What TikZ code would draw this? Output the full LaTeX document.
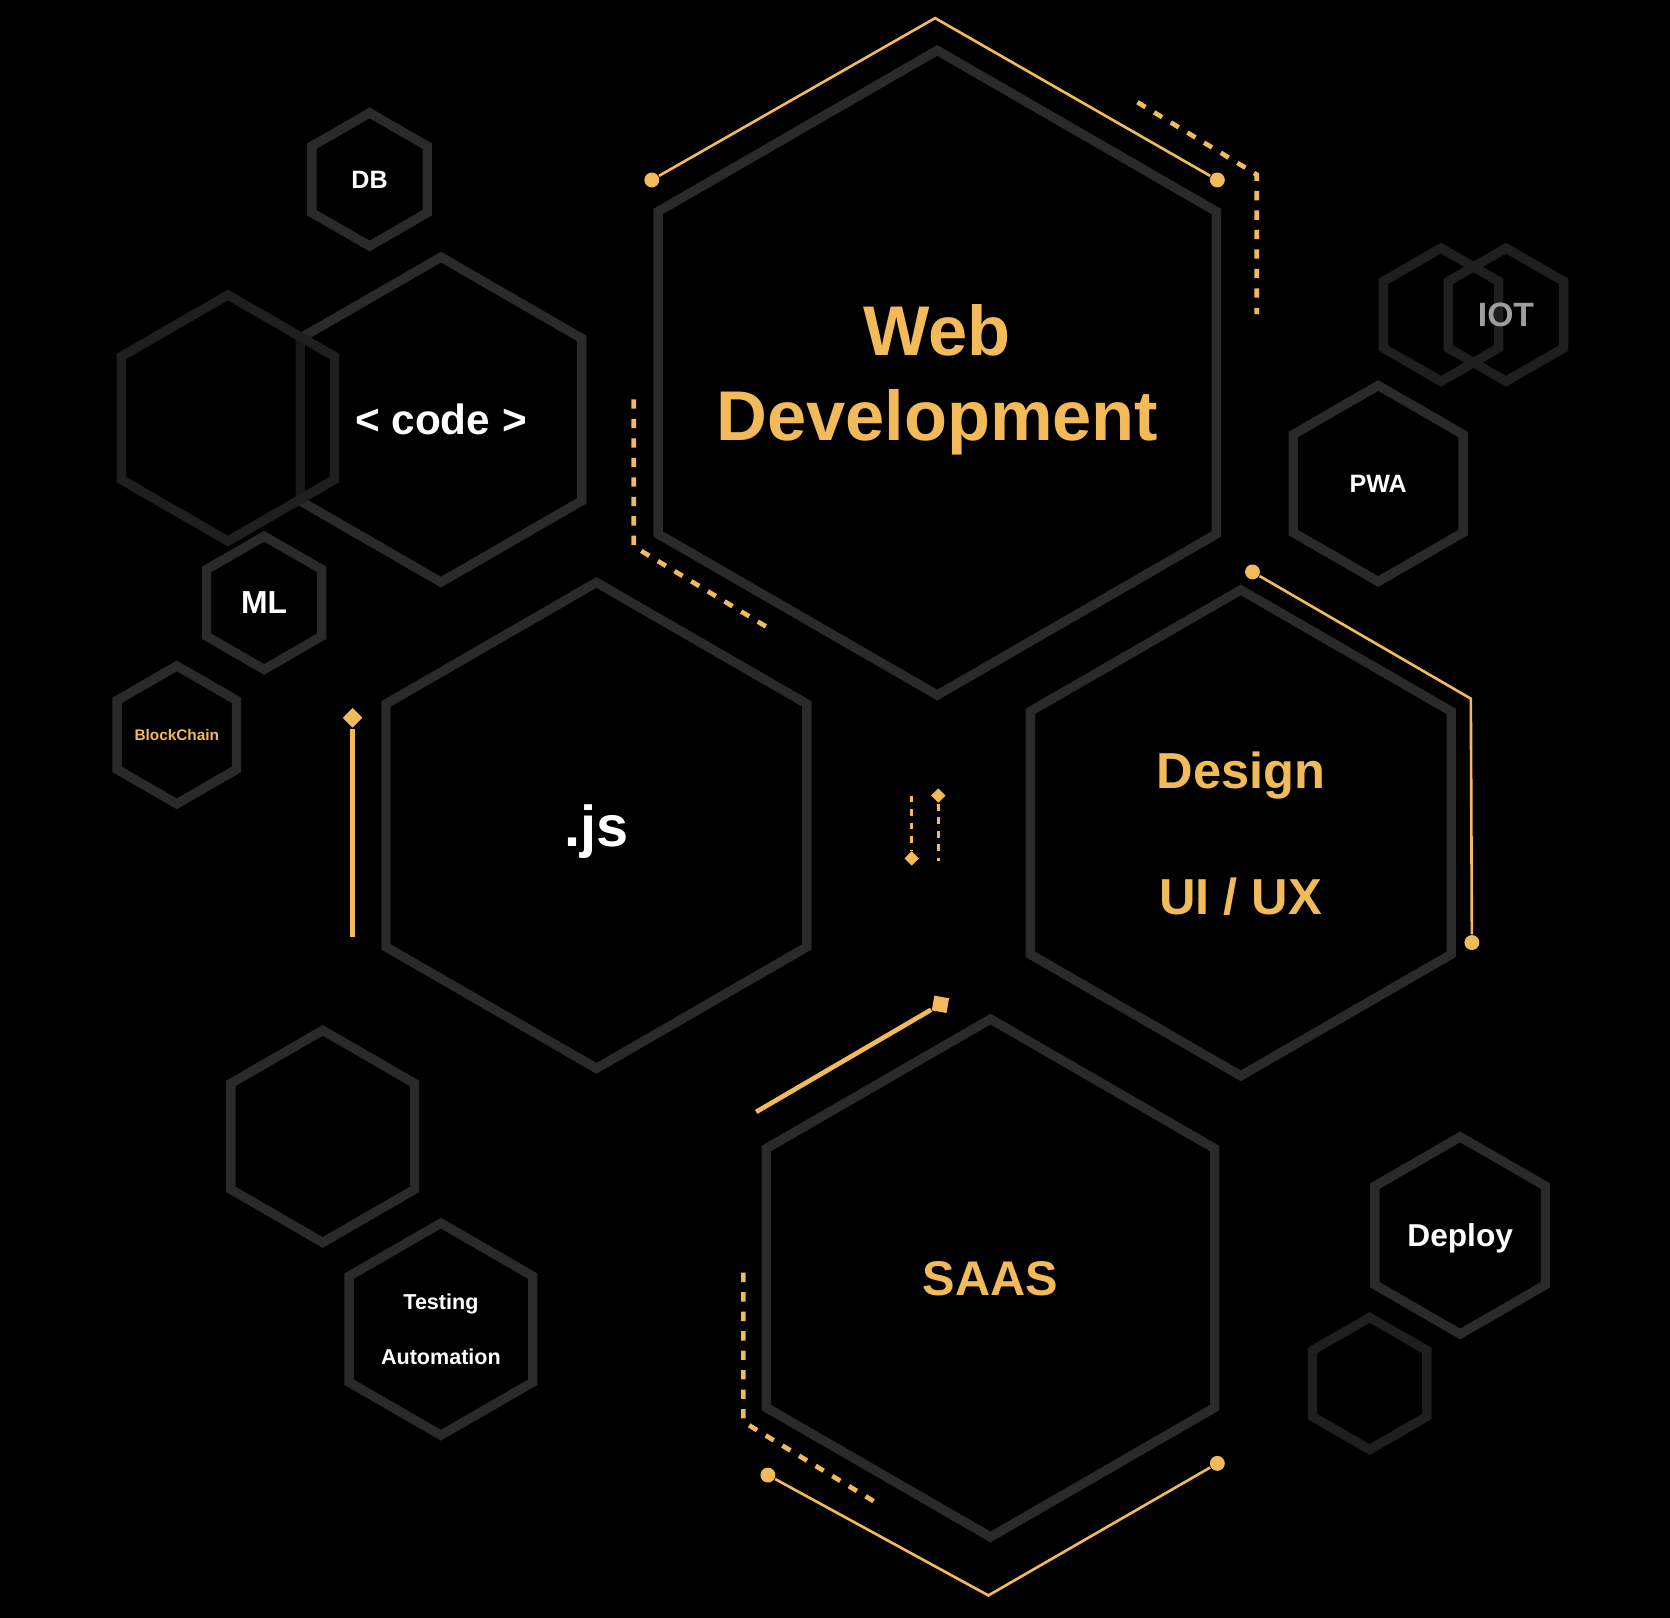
\documentclass[tikz,border=0pt]{standalone}
\usepackage{fontspec}
\setmainfont{Liberation Sans}
\usetikzlibrary{shapes.geometric}
\definecolor{amber}{RGB}{242,186,89}
\definecolor{hexgray}{RGB}{42,42,42}
\definecolor{hexdim}{RGB}{31,31,31}
\definecolor{iotgray}{RGB}{158,158,158}
\newcommand{\hexfont}[2]{\fontsize{#1pt}{#2pt}\selectfont\bfseries}

\begin{document}
\begin{tikzpicture}[x=0.01cm,y=-0.01cm,
   hexa/.style={regular polygon,regular polygon sides=6,shape border rotate=30,
      draw=hexgray,line width=2.5pt,inner sep=0pt,text depth=0pt,align=center,minimum size=#1},
   ghost/.style={hexa=#1,draw=hexdim},
   dot/.style={circle,fill=amber,inner sep=0pt,minimum size=0.14cm},
   gem/.style={diamond,fill=amber,inner sep=0pt,minimum size=#1},
   wire/.style={amber,line width=0.7pt},
   bar/.style={amber,line width=1.25pt},
   dashwire/.style={amber,line width=1.25pt,dash pattern=on 2.5pt off 2.7pt},
   dotwire/.style={amber,line width=0.9pt,dash pattern=on 1.8pt off 1.8pt}]
   \fill[black] (0,0) rectangle (1568,1519);

   \node[hexa=6.05cm,text=amber,font=\hexfont{18.8}{22.8}] (web) at (880,350)
      {\makebox[0pt]{Web}\\\makebox[0pt]{Development}};
   \node[hexa=4.56cm,text=amber,font=\hexfont{13.5}{33.6}] (design) at (1165,782) {Design\\UI / UX};
   \node[hexa=4.56cm,text=white,font=\hexfont{15.4}{18}] (js) at (560,775) {.js};
   \node[hexa=4.86cm,text=amber,font=\hexfont{13}{16}] (saas) at (930,1200) {SAAS};
   \node[hexa=3.05cm,text=white,font=\hexfont{11.3}{14}] (code) at (414,394) {< code >};
   \node[ghost=2.31cm,fill=black,fill opacity=0.4] (shade) at (214,392.5) {};
   \node[hexa=1.25cm,text=white,font=\hexfont{6.7}{8}] (db) at (347,168.5) {DB};
   \node[hexa=1.25cm,text=white,font=\hexfont{8.5}{10}] (ml) at (248,566) {ML};
   \node[hexa=1.25cm,text=amber,font=\hexfont{4.1}{5}] (chain) at (166,690) {BlockChain};
   \node[hexa=1.84cm,text=white,font=\hexfont{6.7}{8}] (pwa) at (1294,454) {PWA};
   \node[ghost=1.25cm] (iotback) at (1353,295.5) {};
   \node[ghost=1.25cm,text=iotgray,font=\hexfont{9}{11}] (iot) at (1414,295.5) {IOT};
   \node[hexa=1.99cm] (blank) at (303,1067) {};
   \node[hexa=1.99cm,text=white,font=\hexfont{5.75}{14.8}] (test) at (414,1248) {Testing\\Automation};
   \node[hexa=1.85cm,text=white,font=\hexfont{8.45}{10}] (deploy) at (1371,1160) {Deploy};
   \node[ghost=1.24cm] (spare) at (1286,1299) {};

   \node[dot] (webl) at (612,169) {};
   \node[dot] (webr) at (1143,169) {};
   \coordinate (webtop) at (878,17);
   \draw[wire] (webl) -- (webtop) -- (webr);

   \coordinate (ne1) at (1068,96);
   \coordinate (ne2) at (1180,164);
   \coordinate (ne3) at (1180,295);
   \draw[dashwire] (ne1) -- (ne2) -- (ne3);

   \coordinate (nw1) at (595,375);
   \coordinate (nw2) at (595,513);
   \coordinate (nw3) at (727,593);
   \draw[dashwire] (nw1) -- (nw2) -- (nw3);

   \node[dot] (desl) at (1176,537) {};
   \coordinate (desc) at (1381,656);
   \node[dot] (desr) at (1382,885) {};
   \draw[wire] (desl) -- (desc) -- (desr);

   \node[gem=0.19cm] (jstip) at (331,674) {};
   \coordinate (jsfoot) at (331,880);
   \draw[bar] (jsfoot) -- (jstip);

   \coordinate (midl) at (856,747);
   \node[gem=0.14cm] (midlgem) at (856,806) {};
   \draw[dotwire] (midl) -- (midlgem);
   \node[gem=0.14cm] (midrgem) at (881,747) {};
   \coordinate (midr) at (881,808);
   \draw[dotwire] (midrgem) -- (midr);

   \node[fill=amber,inner sep=0pt,minimum size=0.14cm,rotate=-10] (saastip) at (883,943) {};
   \coordinate (saasfoot) at (710,1044);
   \draw[bar] (saasfoot) -- (saastip);

   \coordinate (sw1) at (698,1195);
   \coordinate (sw2) at (698,1335);
   \coordinate (sw3) at (826,1413);
   \draw[dashwire] (sw1) -- (sw2) -- (sw3);

   \node[dot] (saasl) at (721,1385) {};
   \coordinate (saasbot) at (928,1498);
   \node[dot] (saasr) at (1143,1374) {};
   \draw[wire] (saasl) -- (saasbot) -- (saasr);
\end{tikzpicture}
\end{document}
